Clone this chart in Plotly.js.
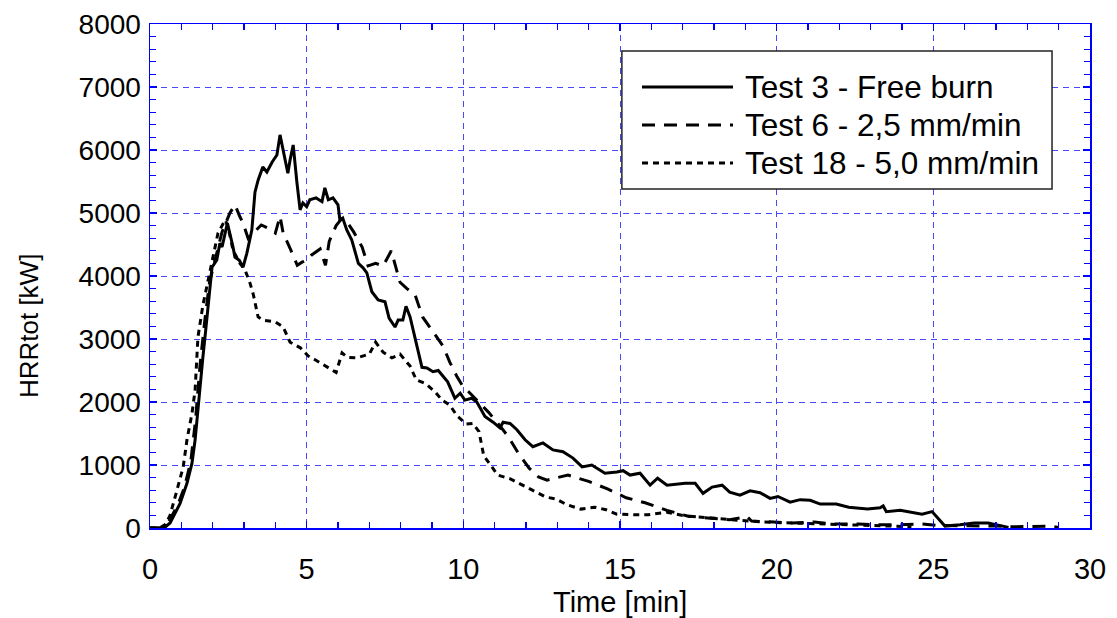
<!DOCTYPE html>
<html>
<head>
<meta charset="utf-8">
<script src="https://cdn.plot.ly/plotly-3.0.1.min.js"></script>
<style>html,body{margin:0;padding:0;background:#fff;}#chart{width:1117px;height:618px;}</style>
</head>
<body>
<div id="chart"></div>
<script>
// ---- Data ----
const seriesNames = ["Test 3 - Free burn", "Test 6 - 2,5 mm/min", "Test 18 - 5,0 mm/min"];

const time3 = [0,0.45,0.64,0.96,1.18,1.34,1.44,1.53,1.69,1.78,1.91,1.98,2.13,2.23,2.3,2.47,2.65,2.71,2.85,2.97,3.09,3.25,3.35,3.45,3.6,3.73,3.9,4.05,4.15,4.24,4.4,4.47,4.57,4.69,4.79,4.88,5.0,5.1,5.3,5.49,5.58,5.69,5.84,6.0,6.06,6.15,6.28,6.44,6.55,6.65,6.8,6.92,7.08,7.28,7.5,7.63,7.82,7.92,8.07,8.17,8.3,8.46,8.68,8.84,9.03,9.2,9.5,9.73,9.9,10.05,10.27,10.43,10.69,10.95,11.17,11.27,11.49,11.71,11.97,12.22,12.54,12.86,13.18,13.5,13.79,14.1,14.52,14.9,15.1,15.32,15.64,15.96,16.2,16.5,17.08,17.4,17.65,17.94,18.26,18.5,18.83,19.15,19.47,19.79,20.04,20.43,20.75,21.07,21.39,21.9,22.3,22.9,23.3,23.4,23.5,23.94,24.35,24.64,24.96,25.15,25.37,25.85,26.3,26.75,27.2,27.4];
const hrr3  = [0,0,80,390,710,1030,1400,1920,2720,3150,3830,4140,4250,4520,4460,4840,4460,4300,4250,4140,4360,4730,5330,5520,5730,5650,5810,5920,6240,6000,5630,5840,6080,5480,5050,5160,5100,5210,5240,5180,5400,5210,5240,5130,4890,4920,4730,4570,4360,4200,4130,4050,3750,3620,3590,3330,3190,3300,3300,3520,3350,3030,2550,2540,2480,2500,2320,2060,2140,2030,2060,2000,1770,1680,1590,1680,1660,1560,1400,1290,1350,1240,1210,1110,970,1000,870,890,910,840,870,680,790,680,710,710,550,650,680,570,520,590,560,470,500,410,450,440,380,380,330,300,320,350,260,280,250,220,260,160,30,50,80,80,30,10];

const time6 = [0,0.4,0.6,0.9,1.1,1.3,1.45,1.6,1.75,1.9,2.1,2.3,2.55,2.71,2.87,2.97,3.13,3.3,3.55,3.8,4.0,4.15,4.25,4.47,4.7,4.85,5.0,5.15,5.43,5.6,5.72,5.94,6.1,6.3,6.5,6.77,6.96,7.2,7.44,7.7,7.85,7.98,8.2,8.46,8.7,9.0,9.35,9.57,9.8,9.96,10.2,10.4,10.8,11.2,11.45,11.75,12.1,12.4,12.67,13.0,13.34,14.0,14.6,15.2,15.8,16.5,17.15,17.8,18.5,19.05,19.2,19.9,20.5,21.2,21.8,22.6,23.2,23.8,24.6,25.2,25.8,26.4,27.0,27.5,28.0,28.7,29.0];
const hrr6  = [0,0,100,380,650,1050,1700,2600,3300,3900,4300,4700,5000,5130,4940,4840,4600,4680,4810,4750,4680,4950,4680,4440,4170,4220,4250,4330,4430,4170,4550,4800,4900,4850,4700,4460,4160,4200,4160,4400,4140,3900,3800,3700,3350,3140,2890,2630,2400,2270,2150,2050,1840,1600,1440,1190,950,810,760,800,840,740,620,480,400,280,190,160,130,180,110,95,80,95,65,65,50,50,65,40,40,30,30,20,20,30,10];

const time18 = [0,0.3,0.5,0.64,0.86,1.06,1.18,1.34,1.44,1.5,1.53,1.69,1.91,2.0,2.17,2.4,2.49,2.65,2.87,3.03,3.19,3.3,3.45,3.6,4.0,4.25,4.47,4.8,5.05,5.27,5.55,5.94,6.13,6.3,6.6,7.0,7.2,7.44,7.72,7.98,8.3,8.5,8.8,9.1,9.32,9.57,9.8,10.1,10.3,10.5,10.65,10.9,11.1,11.5,12.0,12.35,12.64,12.96,13.3,13.75,14.2,14.55,14.9,15.5,15.9,16.5,17.1,17.9,18.5,19.1,19.8,20.5,21.2,22.0,22.8,23.6,24.3];
const hrr18  = [0,0,60,200,600,970,1400,1820,2190,2720,3030,3540,4050,4250,4680,4890,4780,4410,4200,4100,3890,3700,3350,3300,3270,3190,2950,2860,2730,2670,2590,2470,2780,2710,2700,2760,2950,2790,2700,2760,2570,2350,2290,2160,2030,1950,1780,1650,1660,1530,1150,970,840,780,650,570,490,460,370,300,330,290,220,210,210,250,190,160,130,110,90,80,60,50,40,30,20];

const xTicks = [0,5,10,15,20,25,30];
const yTicks = [0,1000,2000,3000,4000,5000,6000,7000,8000];
const xTitle = "Time [min]";
const yTitle = "HRRtot [kW]";

// ---- Styles ----
const FONT = "Arial, 'Liberation Sans', sans-serif";
const dashes = ["solid", "13px,9px", "6px,5px"];
const BLUE = "#0000ff";
const GRID = "#4848ff";

const xs = [time3, time6, time18];
const ys = [hrr3, hrr6, hrr18];
const traces = xs.map((x, i) => ({
  x: x, y: ys[i], type: "scatter", mode: "lines", name: seriesNames[i],
  line: {color: "#000000", width: 3, dash: dashes[i]}, showlegend: false,
  hoverinfo: "skip"
}));

// manual legend (box, sample lines, labels) in paper coordinates
const legBox = {x0: 0.502, x1: 0.9596, y0: 0.6726, y1: 0.9464};
const legLineX = [0.5234, 0.6202];
const legRowY = [0.875, 0.7996, 0.7242];
const legTextX = 0.6309;
const shapes = [{type: "rect", xref: "paper", yref: "paper", x0: legBox.x0, x1: legBox.x1, y0: legBox.y0, y1: legBox.y1,
  line: {color: "#222", width: 1.5}, fillcolor: "#fff", layer: "above"}];
const annotations = [];
seriesNames.forEach((n, i) => {
  shapes.push({type: "line", xref: "paper", yref: "paper", x0: legLineX[0], x1: legLineX[1], y0: legRowY[i], y1: legRowY[i],
    line: {color: "#000", width: 3, dash: dashes[i]}, layer: "above"});
  annotations.push({xref: "paper", yref: "paper", x: legTextX, y: legRowY[i], xanchor: "left", yanchor: "middle",
    text: n, showarrow: false, font: {family: FONT, size: 31.5, color: "#000"}});
});
// axis titles, placed where the reference shows them
annotations.push({xref: "paper", yref: "paper", x: -0.128, y: 0.40, xanchor: "center", yanchor: "middle",
  text: yTitle, textangle: -90, showarrow: false, font: {family: FONT, size: 26, color: "#000"}});
annotations.push({xref: "paper", yref: "paper", x: 0.5, y: -0.146, xanchor: "center", yanchor: "middle",
  text: xTitle, showarrow: false, font: {family: FONT, size: 29, color: "#000"}});

const axisCommon = {
  showline: true, linecolor: BLUE, linewidth: 1.5, mirror: "allticks",
  ticks: "inside", ticklen: 7, tickcolor: BLUE, tickwidth: 1.5,
  showgrid: true, gridcolor: GRID, gridwidth: 1, griddash: "6px,5px",
  zeroline: false, fixedrange: true
};

const layout = {
  width: 1117, height: 618,
  margin: {l: 150, r: 27, t: 24, b: 90},
  paper_bgcolor: "#fff", plot_bgcolor: "#fff",
  font: {family: FONT, size: 30, color: "#000"},
  xaxis: Object.assign({}, axisCommon, {
    range: [0, 30], tickvals: xTicks, ticktext: xTicks.map(String),
    tickfont: {family: FONT, size: 29, color: "#000"},
    ticklabelstandoff: 15,
    minor: {dtick: 1, ticks: "inside", ticklen: 6, tickcolor: BLUE, tickwidth: 1.2, showgrid: false}
  }),
  yaxis: Object.assign({}, axisCommon, {
    range: [0, 8000], tickvals: yTicks, ticktext: yTicks.map(String),
    tickfont: {family: FONT, size: 28, color: "#000"},
    ticklabelstandoff: 2,
    minor: {dtick: 200, ticks: "inside", ticklen: 6, tickcolor: BLUE, tickwidth: 1.2, showgrid: false}
  }),
  shapes: shapes,
  annotations: annotations,
  showlegend: false
};

Plotly.newPlot("chart", traces, layout, {displayModeBar: false, staticPlot: true});
</script>
</body>
</html>
